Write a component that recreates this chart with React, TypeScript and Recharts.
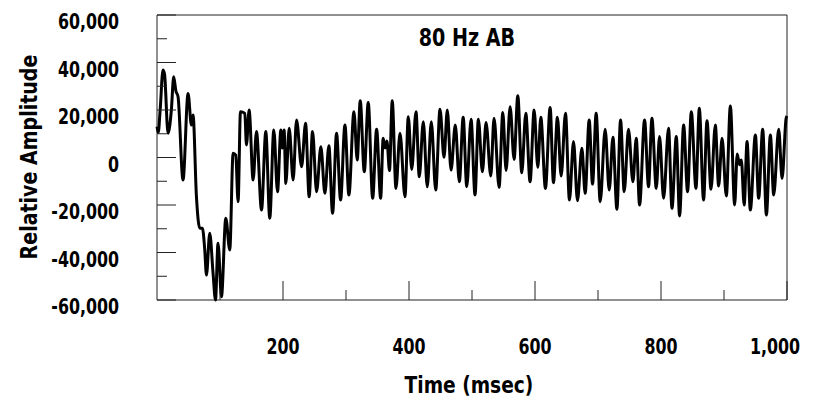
import React from 'react';
import { LineChart, Line, XAxis, YAxis, ReferenceArea } from 'recharts';

// Time samples (msec) at the extrema of the recorded waveform
const timeMs = [
  0, 2, 5, 9.5, 12, 17.5, 22.8, 26.5, 30, 33.4, 41.3, 49.3, 54.6, 57.2, 62.6, 67.9, 72.1, 75.8, 78.5,
  83.7, 89, 92.8, 96.9, 102.3, 109.2, 115.5, 120.8, 125, 128.7, 132.5, 139.4, 142, 146.2, 152.6, 157.9,
  165.9, 172.7, 179, 185.4, 191.3, 196.6, 199, 201.8, 204.5, 209.8, 216.1, 221.5, 229.5, 235.8, 241.5,
  246.9, 253.3, 260.1, 266.5, 272.8, 278.7, 285, 291.4, 298.3, 304.6, 312.6, 317.8, 322.6, 329, 335.3,
  342.3, 348.6, 355, 359, 362, 365, 369, 373.4, 379.3, 385.7, 393.6, 398.9, 404.3, 411.1, 416.3, 422.7,
  429, 435.4, 442.4, 449.2, 455.6, 460.8, 466.7, 473.5, 479.9, 486, 491.7, 498.5, 504.8, 510.1, 516.5,
  522.3, 529.8, 535, 543, 548.9, 554.1, 560.5, 566.8, 572.7, 579, 585.4, 592.2, 598.6, 604.5, 609.2,
  616.6, 624, 629.3, 635.6, 641.5, 648.4, 654.7, 661.1, 667.4, 674.4, 679.6, 686, 691.3, 697.1, 703.5,
  711.4, 717.8, 723.7, 730, 735.8, 741.6, 748.4, 755.4, 760.7, 766, 773.9, 780.2, 785.6, 792.5, 797.7,
  804.1, 812, 817.4, 824.3, 829.5, 835.9, 842.2, 848.1, 855.5, 860.8, 867.6, 873, 879.4, 886.2, 891.5,
  896.9, 903.7, 910.1, 916.9, 921, 924.5, 927.5, 932, 936.6, 941.8, 949.8, 955, 961.4, 967.3, 973.6,
  978.9, 986.8, 992.2, 998.6, 1000,
];

// Relative amplitude at each sample
const amplitude = [
  13000, 10500, 20000, 36800, 35000, 10200, 20000, 34000, 28000, 25600, -9500, 27000, 13700, 17900,
  -16500, -29800, -29800, -38900, -49500, -31900, -48800, -60000, -36100, -58600, -25600, -38900, 1800,
  1000, -18600, 19300, 18600, 5300, 20000, -9500, 10900, -22100, 10900, -25600, 11600, -14400, 11600,
  4000, 11600, -10900, 12300, -9500, 15800, -3900, 14400, -16500, 10900, -14400, 4500, -15100, 5000,
  -23500, 10200, -17900, 13700, -15800, 19300, -1000, 23900, -6000, 23200, -17200, 11900, -17200, 8100,
  4000, 7000, -5500, 23900, -13000, 10200, -16500, 17200, -5000, 19300, -8100, 15100, -12300, 15100,
  -13700, 20300, 100, 20000, -5300, 13700, -10200, 16900, -12300, 16100, -15800, 16100, -6000, 14700,
  -7800, 16500, -12600, 18900, -5500, 21400, -800, 26000, -6400, 18600, -10200, 20000, -4100, 16900,
  -13000, 21100, -10600, 16900, -7800, 18600, -17900, 6700, -18200, 3900, -15100, 15800, -11200, 18600,
  -18600, 11900, -13700, 8500, -21800, 15800, -14400, 11900, -10200, 8100, -20000, 15800, -12300, 16500,
  -13000, 8800, -17200, 12300, -21400, 8800, -24600, 13700, -14400, 19300, -13000, 20700, -17900, 15500,
  -13400, 13700, -12000, 8100, -16200, 21700, -20000, 1500, -3000, -1000, -20000, 6700, -22100, 9500,
  -17200, 11900, -24200, 9500, -15800, 11900, -8800, 16500, 17500,
];

const xTicks = [100, 200, 300, 400, 500, 600, 700, 800, 900, 1000];
const yTicks = [-60000, -50000, -40000, -30000, -20000, -10000, 0, 10000, 20000, 30000, 40000, 50000, 60000];

const titleText = '80 Hz AB';
const xTitle = 'Time (msec)';
const yTitle = 'Relative Amplitude';

const data = timeMs.map((t, i) => ({ t, v: amplitude[i] }));

const FONT = "'Liberation Sans Narrow', 'DejaVu Sans Condensed', 'Arial Narrow', sans-serif";
const AXIS = '#222';

const fmt = (v: number) => v.toLocaleString('en-US');

function SqText(props: {
  x: number; y: number; sx: number; size: number; anchor: 'start' | 'middle' | 'end'; rotate?: number; children: React.ReactNode;
}) {
  const { x, y, sx, size, anchor, rotate, children } = props;
  const tr = `translate(${x},${y})${rotate ? ` rotate(${rotate})` : ''} scale(${sx},1)`;
  return (
    <text transform={tr} x={0} y={0} textAnchor={anchor} fontFamily={FONT} fontWeight="bold" fontSize={size} fill="#000">
      {children}
    </text>
  );
}

function XTick(props: any) {
  const { x, y, payload } = props;
  const v = payload.value as number;
  const major = v % 200 === 0;
  const last = v === 1000;
  return (
    <g>
      <line x1={x} x2={x} y1={y} y2={y - (major ? 19 : 10)} stroke={AXIS} strokeWidth={1} />
      {major && (
        <SqText x={last ? x + 13 : x} y={y + 54} sx={0.8} size={22} anchor={last ? 'end' : 'middle'}>
          {fmt(v)}
        </SqText>
      )}
    </g>
  );
}

function YTick(props: any) {
  const { x, y, payload } = props;
  const v = payload.value as number;
  const major = v % 20000 === 0;
  return (
    <g>
      <line x1={x} x2={x + (major ? 19 : 10)} y1={y} y2={y} stroke={AXIS} strokeWidth={1} />
      {major && (
        <SqText x={x - 38} y={y + 14} sx={0.8} size={22} anchor="end">
          {fmt(v)}
        </SqText>
      )}
    </g>
  );
}

export default function App() {
  return (
    <div style={{ position: 'absolute', left: 0, top: 0, width: 828, height: 408, background: '#fff' }}>
      <LineChart width={828} height={408} data={data} margin={{ top: 15, right: 41, left: 0, bottom: 0 }}>
        <XAxis
          dataKey="t"
          type="number"
          domain={[0, 1000]}
          ticks={xTicks}
          interval={0}
          height={108}
          axisLine={false}
          tickLine={false}
          tickSize={0}
          tickMargin={0}
          tick={<XTick />}
        />
        <YAxis
          type="number"
          domain={[-60000, 60000]}
          ticks={yTicks}
          interval={0}
          width={157}
          axisLine={false}
          tickLine={false}
          tickSize={0}
          tickMargin={0}
          tick={<YTick />}
        />
        <ReferenceArea x1={0} x2={1000} y1={-60000} y2={60000} fill="none" stroke={AXIS} strokeWidth={1} />
        <Line
          dataKey="v"
          type="monotone"
          stroke="#000"
          strokeWidth={3}
          dot={false}
          isAnimationActive={false}
        />
      </LineChart>
      <svg
        width={828}
        height={408}
        style={{ position: 'absolute', left: 0, top: 0, pointerEvents: 'none' }}
      >
        <SqText x={467} y={46} sx={0.85} size={25} anchor="middle">{titleText}</SqText>
        <SqText x={469} y={393} sx={0.9} size={23} anchor="middle">{xTitle}</SqText>
        <SqText x={37} y={157} sx={0.92} size={23} anchor="middle" rotate={-90}>{yTitle}</SqText>
      </svg>
    </div>
  );
}
